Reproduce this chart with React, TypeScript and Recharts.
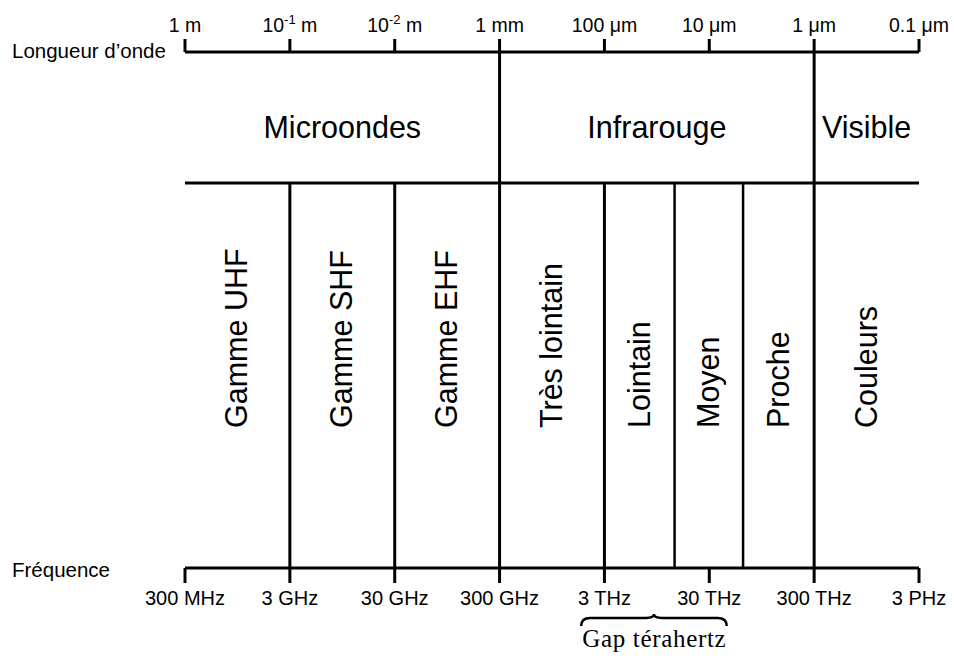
import { ComposedChart, XAxis, YAxis, ReferenceLine, ReferenceArea } from "recharts";

// frequency axis (Hz), bottom
const FREQ_TICKS = [3e8, 3e9, 3e10, 3e11, 3e12, 3e13, 3e14, 3e15];
const FREQ_LABELS = ["300 MHz", "3 GHz", "30 GHz", "300 GHz", "3 THz", "30 THz", "300 THz", "3 PHz"];

// wavelength axis (m), top
const WAVE_TICKS = [1, 1e-1, 1e-2, 1e-3, 1e-4, 1e-5, 1e-6, 1e-7];
const WAVE_LABELS = ["1 m", "10^-1 m", "10^-2 m", "1 mm", "100 μm", "10 μm", "1 μm", "0.1 μm"];

// large domains (upper row)
const DOMAINS = [
  { name: "Microondes", from: 3e8, to: 3e11 },
  { name: "Infrarouge", from: 3e11, to: 3e14 },
  { name: "Visible", from: 3e14, to: 3e15 },
];

// sub-bands (lower row)
const BANDS = [
  { name: "Gamme UHF", from: 3e8, to: 3e9 },
  { name: "Gamme SHF", from: 3e9, to: 3e10 },
  { name: "Gamme EHF", from: 3e10, to: 3e11 },
  { name: "Très lointain", from: 3e11, to: 3e12 },
  { name: "Lointain", from: 3e12, to: 1.4e13 },
  { name: "Moyen", from: 1.4e13, to: 6.3e13 },
  { name: "Proche", from: 6.3e13, to: 3e14 },
  { name: "Couleurs", from: 3e14, to: 3e15 },
];

const GAP = { name: "Gap térahertz", from: 1.8e12, to: 4.4e13 };

const FONT = "'Liberation Sans', Arial, Helvetica, sans-serif";
const DIVIDER = 74.6; // level of the horizontal separator on the hidden y scale

const domainEdges = DOMAINS.slice(1).map((d) => d.from);
const bandEdges = BANDS.slice(1)
  .map((b) => b.from)
  .filter((f) => !domainEdges.includes(f));

function WaveTick(props: any) {
  const { x, y, payload } = props;
  const s = WAVE_LABELS[WAVE_TICKS.indexOf(payload.value)] ?? "";
  const m = s.match(/^(\S*)\^(\S+)(.*)$/);
  return (
    <text x={x} y={y} textAnchor="middle" fontSize={19.5} fontFamily={FONT} fill="#000">
      {m ? (
        <>
          {m[1]}
          <tspan dy={-8} fontSize={13}>{m[2]}</tspan>
          <tspan dy={8}>{m[3]}</tspan>
        </>
      ) : (
        s
      )}
    </text>
  );
}

function FreqTick(props: any) {
  const { x, y, payload } = props;
  const s = FREQ_LABELS[FREQ_TICKS.indexOf(payload.value)] ?? "";
  return (
    <text x={x} y={y} dy={14} textAnchor="middle" fontSize={20} fontFamily={FONT} fill="#000">
      {s}
    </text>
  );
}

function Brace(props: any) {
  const { x, y, width, height } = props;
  const x1 = x;
  const x2 = x + width;
  const xm = x + width / 2;
  const top = y + height + 50;
  const d = `M ${x1} ${top + 8} Q ${x1} ${top} ${x1 + 9} ${top} L ${xm - 8} ${top} Q ${xm} ${top} ${xm} ${top - 4} Q ${xm} ${top} ${xm + 8} ${top} L ${x2 - 9} ${top} Q ${x2} ${top} ${x2} ${top + 8}`;
  return (
    <g>
      <path d={d} fill="none" stroke="#000" strokeWidth={2.4} />
      <text
        x={xm}
        y={top + 29}
        textAnchor="middle"
        fontSize={25}
        fontFamily="'Liberation Serif', 'DejaVu Serif', serif"
        textLength={width - 2}
        lengthAdjust="spacing"
        fill="#000"
      >
        {GAP.name}
      </text>
    </g>
  );
}

const data = FREQ_TICKS.map((f) => ({ f }));

export default function App() {
  return (
    <div style={{ position: "absolute", left: 0, top: 0, width: 954, height: 656, background: "#fff" }}>
      <ComposedChart
        width={954}
        height={656}
        data={data}
        margin={{ top: 0, right: 35, bottom: 0, left: 185 }}
      >
        <XAxis
          xAxisId="w"
          orientation="top"
          type="number"
          scale="log"
          dataKey="f"
          domain={[1e-7, 1]}
          reversed
          allowDataOverflow
          ticks={WAVE_TICKS}
          interval={0}
          height={52}
          tickSize={13}
          tickMargin={7}
          axisLine={{ stroke: "#000", strokeWidth: 3 }}
          tickLine={{ stroke: "#000", strokeWidth: 3 }}
          tick={<WaveTick />}
          label={(p: any) => (
            <text x={12} y={p.viewBox.y + p.viewBox.height + 6} fontSize={20.5} fontFamily={FONT} fill="#000">
              Longueur d’onde
            </text>
          )}
        />
        <XAxis
          xAxisId="f"
          orientation="bottom"
          type="number"
          scale="log"
          dataKey="f"
          domain={[3e8, 3e15]}
          allowDataOverflow
          ticks={FREQ_TICKS}
          interval={0}
          height={88}
          tickSize={15}
          tickMargin={8}
          axisLine={{ stroke: "#000", strokeWidth: 3 }}
          tickLine={{ stroke: "#000", strokeWidth: 3 }}
          tick={<FreqTick />}
          label={(p: any) => (
            <text x={12} y={p.viewBox.y + 9} fontSize={20.5} fontFamily={FONT} fill="#000">
              Fréquence
            </text>
          )}
        />
        <YAxis yAxisId="y" hide type="number" domain={[0, 100]} allowDataOverflow />

        <ReferenceLine xAxisId="f" yAxisId="y" y={DIVIDER} stroke="#000" strokeWidth={3} />
        {domainEdges.map((f) => (
          <ReferenceLine key={`d${f}`} xAxisId="f" yAxisId="y" x={f} stroke="#000" strokeWidth={3} />
        ))}
        {bandEdges.map((f) => (
          <ReferenceLine
            key={`b${f}`}
            xAxisId="f"
            yAxisId="y"
            segment={[
              { x: f, y: 0 },
              { x: f, y: DIVIDER },
            ]}
            stroke="#000"
            strokeWidth={FREQ_TICKS.includes(f) ? 3 : 2.5}
          />
        ))}

        {DOMAINS.map((d) => (
          <ReferenceArea
            key={d.name}
            xAxisId="f"
            yAxisId="y"
            x1={d.from}
            x2={d.to}
            y1={DIVIDER}
            y2={100}
            fill="none"
            stroke="none"
            label={(p: any) => (
              <text
                x={p.viewBox.x + p.viewBox.width / 2}
                y={p.viewBox.y + 86}
                textAnchor="middle"
                fontSize={30.5}
                fontFamily={FONT}
                fill="#000"
              >
                {d.name}
              </text>
            )}
          />
        ))}

        {BANDS.map((b) => (
          <ReferenceArea
            key={b.name}
            xAxisId="f"
            yAxisId="y"
            x1={b.from}
            x2={b.to}
            y1={0}
            y2={DIVIDER}
            fill="none"
            stroke="none"
            label={(p: any) => {
              const bx = p.viewBox.x + p.viewBox.width / 2 + 10;
              const by = p.viewBox.y + p.viewBox.height - 140;
              return (
                <text
                  x={bx}
                  y={by}
                  transform={`rotate(-90, ${bx}, ${by})`}
                  textAnchor="start"
                  fontSize={30.5}
                  fontFamily={FONT}
                  fill="#000"
                >
                  {b.name}
                </text>
              );
            }}
          />
        ))}

        <ReferenceArea
          xAxisId="f"
          yAxisId="y"
          x1={GAP.from}
          x2={GAP.to}
          y1={0}
          y2={DIVIDER}
          fill="none"
          stroke="none"
          shape={(p: any) => <Brace {...p} />}
        />
      </ComposedChart>
    </div>
  );
}
